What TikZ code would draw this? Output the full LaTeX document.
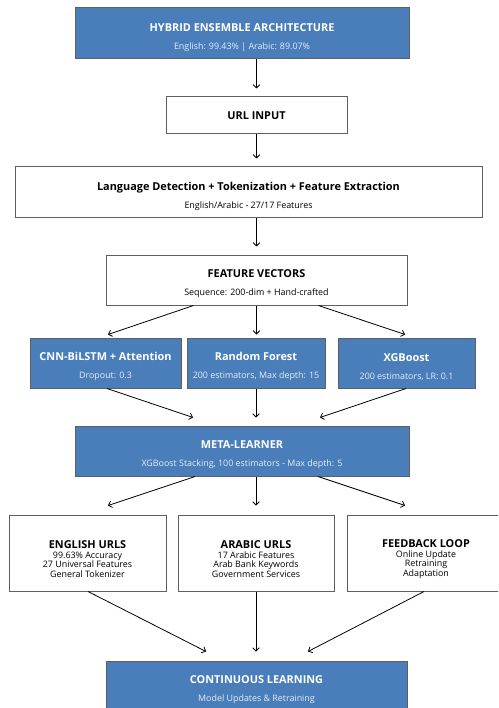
\documentclass[tikz,border=0pt]{standalone}
\usepackage{fontspec}
\setmainfont{Open Sans}
\usepackage{xcolor}
\usetikzlibrary{arrows.meta,calc}
\definecolor{stagefill}{RGB}{74,126,187}
\definecolor{edgegray}{RGB}{95,95,95}
\definecolor{notewhite}{RGB}{228,236,246}
\newcommand{\boxtitle}[1]{{\fontsize{10.9}{12}\selectfont\bfseries #1}}
\newcommand{\boxnote}[1]{{\fontsize{8.9}{10}\selectfont #1}}
\newcommand{\headline}[2]{\rule{0pt}{16pt}\boxtitle{#1}\\[6pt]\boxnote{#2}}
\tikzset{
  block/.style={
    draw=edgegray,
    line width=1pt,
    align=center,
    inner sep=2pt
  },
  stage/.style={block, fill=stagefill, text=white},
  plain/.style={block, fill=white, text=black},
  flow/.style={-{Straight Barb[length=3.2pt,width=6.5pt]}, line width=0.8pt}
}

\begin{document}
\begin{tikzpicture}[
      x=1pt,
      y=-1pt,
      wide/.style={minimum width=334pt, minimum height=51pt},
      mid/.style={minimum width=301pt, minimum height=50pt},
      model/.style={stage, minimum height=50pt},
      branch/.style={plain, minimum width=157pt, minimum height=76pt},
      branchtext/.style={align=center, inner sep=0pt,
        font=\fontsize{8.9}{9.7}\selectfont}
    ]
    \useasboundingbox (0,0) rectangle (498,708);
    \clip (0,0) rectangle (498,708);

    \node[stage, wide] (arch) at (242,33.5)
      {\headline{HYBRID ENSEMBLE ARCHITECTURE}{\color{notewhite}English: 99.43\% | Arabic: 89.07\%}};
    \node[plain, minimum width=181pt, minimum height=37pt] (url) at (256.5,115.5)
      {\boxtitle{URL INPUT}};
    \node[plain, minimum width=467pt, minimum height=51pt] (lang) at (248.5,192.5)
      {\headline{Language Detection + Tokenization + Feature Extraction}{English/Arabic - 27/17 Features}};
    \node[plain, mid] (fv) at (256.5,280)
      {\headline{FEATURE VECTORS}{Sequence: 200-dim + Hand-crafted}};

    \node[model, minimum width=151pt] (cnn) at (105.5,363)
      {\headline{CNN-BiLSTM + Attention}{\color{notewhite}Dropout: 0.3}};
    \node[model, minimum width=138pt] (rf) at (256,363)
      {\headline{Random Forest}{\color{notewhite}200 estimators, Max depth: 15}};
    \node[model, minimum width=137pt] (xgb) at (406.5,363)
      {\headline{XGBoost}{\color{notewhite}200 estimators, LR: 0.1}};

    \node[stage, wide, minimum height=50pt] (meta) at (242,451)
      {\headline{META-LEARNER}{\color{notewhite}XGBoost Stacking, 100 estimators - Max depth: 5}};

    \node[branch] (eng) at (87.5,553) {};
    \node[branch, minimum width=156pt] (ara) at (256,553) {};
    \node[branch, minimum width=158pt] (fb) at (426,553) {};
    \node[branchtext] (engtext) at ($(eng.center)+(0,6)$)
      {\boxtitle{ENGLISH URLS}\\99.63\% Accuracy\\27 Universal Features\\General Tokenizer};
    \node[branchtext] (aratext) at ($(ara.center)+(0,6)$)
      {\boxtitle{ARABIC URLS}\\17 Arabic Features\\Arab Bank Keywords\\Government Services};
    \node[branchtext] (fbtext) at ($(fb.center)+(0,6)$)
      {\boxtitle{FEEDBACK LOOP}\\Online Update\\Retraining\\Adaptation};

    \node[stage, mid] (cont) at (256.5,686)
      {\headline{CONTINUOUS LEARNING}{\color{notewhite}Model Updates \& Retraining}};

    \draw[flow, shorten >=8pt] (arch.south -| url.north) -- (url.north);
    \draw[flow, shorten >=8pt] (url.south) -- (url.south |- lang.north);
    \draw[flow, shorten >=8pt] (lang.south -| fv.north) -- (fv.north);

    \draw[flow] ($(fv.south)+(-63,0)$) -- ($(cnn.north)+(2.5,-3)$);
    \draw[flow, shorten >=3pt] (fv.south) -- (fv.south |- rf.north);
    \draw[flow] ($(fv.south)+(62,0)$) -- ($(xgb.north)+(-1.5,-3)$);

    \draw[flow] ($(cnn.south)+(1.5,0)$) -- ($(meta.north)+(-49,-8)$);
    \draw[flow, shorten >=8pt] (rf.south) -- (rf.south |- meta.north);
    \draw[flow] ($(xgb.south)+(-0.5,0)$) -- ($(meta.north)+(78,-8)$);

    \draw[flow] ($(meta.south)+(-47,0)$) -- ($(eng.north)+(20.5,-9)$);
    \draw[flow, shorten >=9pt] (meta.south -| ara.north) -- (ara.north);
    \draw[flow] ($(meta.south)+(76,0)$) -- ($(fb.north)+(-21,-9)$);

    \draw[flow] ($(eng.south)+(0.5,0)$) -- ($(cont.north)+(-50.5,-9)$);
    \draw[flow, shorten >=9pt] (ara.south) -- (ara.south |- cont.north);
    \draw[flow] ($(fb.south)+(-2,0)$) -- ($(cont.north)+(51.5,-9)$);
  \end{tikzpicture}
\end{document}
